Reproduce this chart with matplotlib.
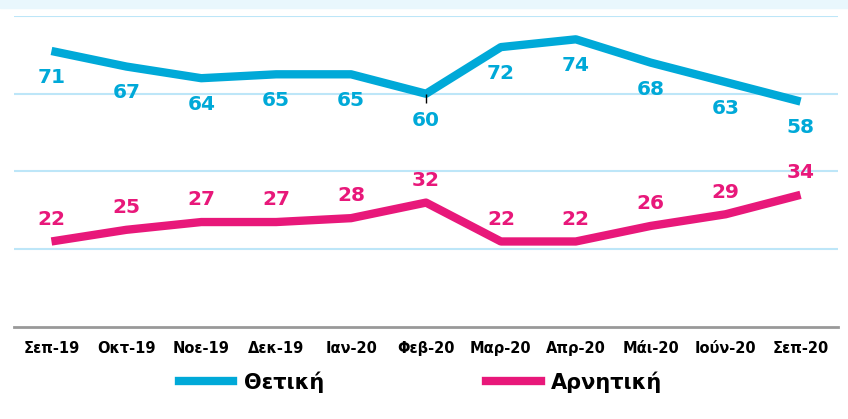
import numpy as np
import matplotlib.pyplot as plt
from matplotlib.lines import Line2D

months = ["Σεπ-19", "Οκτ-19", "Νοε-19", "Δεκ-19", "Ιαν-20", "Φεβ-20",
          "Μαρ-20", "Απρ-20", "Μάι-20", "Ιούν-20", "Σεπ-20"]
positive = [71, 67, 64, 65, 65, 60, 72, 74, 68, 63, 58]
negative = [22, 25, 27, 27, 28, 32, 22, 22, 26, 29, 34]

blue = "#00a9d8"
pink = "#e8187a"
plt.rcParams['font.family'] = ['DejaVu Sans']

fig = plt.figure(figsize=(8.48, 4.19), dpi=100)
# light band at the very top (cut-off header)
fig.patches.append(plt.Rectangle((0, 1 - 8/419), 1, 8/419, transform=fig.transFigure,
                                 color="#e9f7fd", zorder=0))
ax = fig.add_axes([14/848, 1 - 327/419, 824/848, 311/419])
x = np.arange(len(months))

ax.plot(x, positive, color=blue, lw=6, solid_capstyle='butt', zorder=3)
ax.plot(x, negative, color=pink, lw=6, solid_capstyle='butt', zorder=3)
ax.vlines(5, 57.5, 60, color="black", lw=1, zorder=4)

for xi, v in zip(x, positive):
    ax.annotate(str(v), (xi, v), xytext=(0, -19), textcoords="offset points",
                ha="center", va="center", color=blue, fontsize=14.5, fontweight="bold")
for xi, v in zip(x, negative):
    ax.annotate(str(v), (xi, v), xytext=(0, 16), textcoords="offset points",
                ha="center", va="center", color=pink, fontsize=14.5, fontweight="bold")

ax.set_xlim(-0.5, len(months) - 0.5)
ax.set_ylim(0, 80)
ax.set_yticks([20, 40, 60, 80])
ax.grid(axis="y", color="#bde6f8", lw=1.5)
ax.set_axisbelow(True)
ax.tick_params(axis="y", left=False, labelleft=False)
ax.tick_params(axis="x", length=0, pad=10)
ax.set_xticks(x)
ax.set_xticklabels(months, fontsize=10.5, fontweight="bold")
for s in ["top", "left", "right"]:
    ax.spines[s].set_visible(False)
ax.spines["bottom"].set_color("#999999")
ax.spines["bottom"].set_linewidth(2)

handles = [Line2D([], [], color=blue, lw=6), Line2D([], [], color=pink, lw=6)]
fig.legend(handles, ["Θετική", "Αρνητική"], loc="center", bbox_to_anchor=(0.496, 1 - 382/419),
           ncol=2, frameon=False, prop={"size": 15, "weight": "bold"},
           handlelength=2.6, columnspacing=7.8, handletextpad=0.5)

fig.savefig("out.png", dpi=100)
